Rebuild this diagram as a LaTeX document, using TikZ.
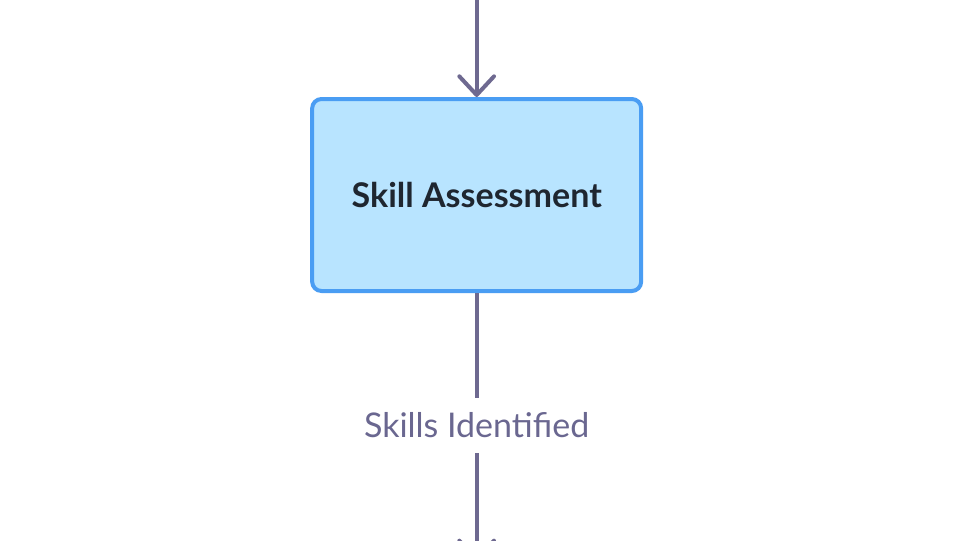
\documentclass[tikz,border=0pt]{standalone}
\usepackage{fontspec}
\setmainfont{Lato}
\usetikzlibrary{arrows.meta}
\definecolor{edgecol}{HTML}{6E6990}
\definecolor{lblcol}{HTML}{6A6790}
\definecolor{boxfill}{HTML}{B8E4FF}
\definecolor{boxline}{HTML}{4A9DF3}
\definecolor{boxtext}{HTML}{1F2630}
\tikzset{
  procbox/.style={draw=boxline, line width=3pt, fill=boxfill, rounded corners=7pt,
    minimum width=246.75pt, minimum height=144pt, inner sep=0pt,
    font=\fontsize{25.5}{28}\selectfont\bfseries, text=boxtext},
  edgelbl/.style={fill=white, inner xsep=4pt, inner ysep=0pt, minimum height=41pt,
    text=lblcol, font=\fontsize{25.5}{28}\selectfont},
  flow/.style={draw=edgecol, line width=3pt,
    -{Straight Barb[length=14pt, width=26pt, line width=3pt, round]}}
}
\begin{document}
\begin{tikzpicture}[x=1pt,y=1pt]
\useasboundingbox[fill=white] (0,0) rectangle (720,-405);
\coordinate (top) at (357.5,5);
\node[procbox] (sa) at (357.5,-146.25) {Skill Assessment};
\coordinate (bot) at (357.5,-421);
\draw[flow] (top) -- (sa.north);
\draw[flow] (sa.south) -- (bot);
\node[edgelbl] (lbl) at (357.5,-319) {Skills Identified};
\end{tikzpicture}
\end{document}
